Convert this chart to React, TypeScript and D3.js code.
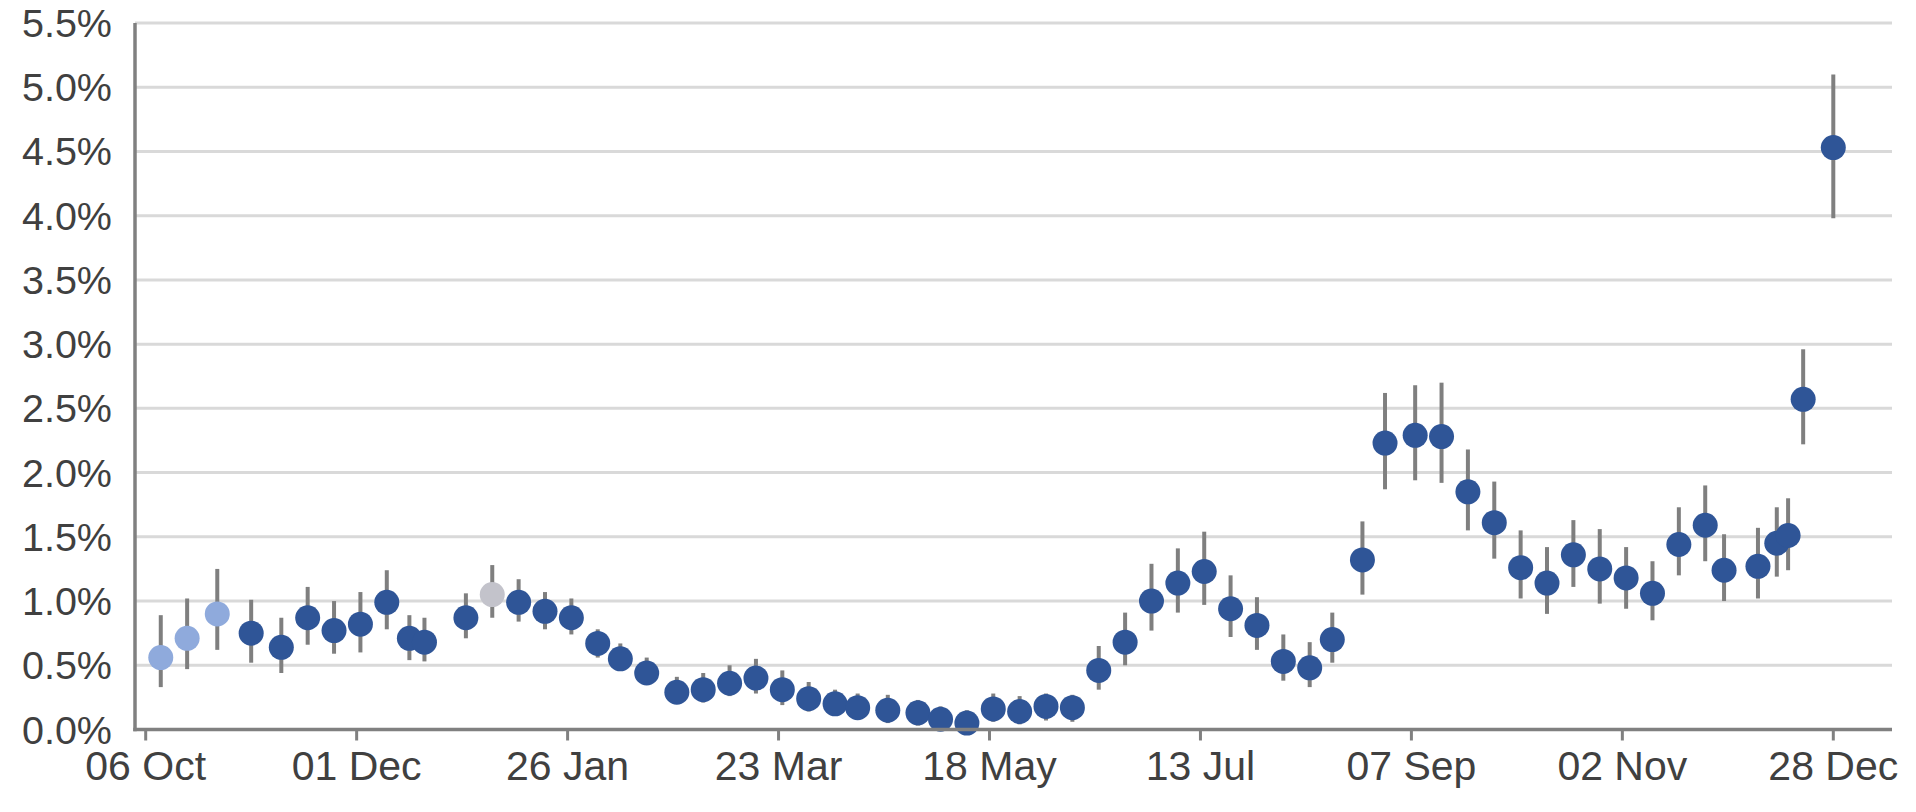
import React from "react";
import * as d3 from "d3";

// ---- data (percent of population testing positive, with 95% credible intervals) ----
const dates = [
  "2020-10-10","2020-10-17","2020-10-25","2020-11-03","2020-11-11","2020-11-18","2020-11-25","2020-12-02",
  "2020-12-09","2020-12-15","2020-12-19","2020-12-30","2021-01-06","2021-01-13","2021-01-20","2021-01-27",
  "2021-02-03","2021-02-09","2021-02-16","2021-02-24","2021-03-03","2021-03-10","2021-03-17","2021-03-24",
  "2021-03-31","2021-04-07","2021-04-13","2021-04-21","2021-04-29","2021-05-05","2021-05-12","2021-05-19",
  "2021-05-26","2021-06-02","2021-06-09","2021-06-16","2021-06-23","2021-06-30","2021-07-07","2021-07-14",
  "2021-07-21","2021-07-28","2021-08-04","2021-08-11","2021-08-17","2021-08-25","2021-08-31","2021-09-08",
  "2021-09-15","2021-09-22","2021-09-29","2021-10-06","2021-10-13","2021-10-20","2021-10-27","2021-11-03",
  "2021-11-10","2021-11-17","2021-11-24","2021-11-29","2021-12-08","2021-12-13","2021-12-16","2021-12-20",
  "2021-12-28",
];
const estimate = [
  0.56,0.71,0.90,0.75,0.64,0.87,0.77,0.82,
  0.99,0.71,0.68,0.87,1.05,0.99,0.92,0.87,
  0.67,0.55,0.44,0.29,0.31,0.36,0.40,0.31,
  0.24,0.20,0.17,0.15,0.13,0.08,0.05,0.16,
  0.14,0.18,0.17,0.46,0.68,1.00,1.14,1.23,
  0.94,0.81,0.53,0.48,0.70,1.32,2.23,2.29,
  2.28,1.85,1.61,1.26,1.14,1.36,1.25,1.18,
  1.06,1.44,1.59,1.24,1.27,1.45,1.51,2.57,
  4.53,
];
const lower = [
  0.33,0.47,0.62,0.52,0.44,0.66,0.59,0.60,
  0.78,0.54,0.53,0.71,0.87,0.84,0.78,0.74,
  0.56,0.46,0.35,0.20,0.21,0.26,0.28,0.19,
  0.14,0.11,0.09,0.05,0.03,0.01,0.00,0.06,
  0.04,0.07,0.06,0.31,0.50,0.77,0.91,0.97,
  0.72,0.62,0.38,0.33,0.52,1.05,1.87,1.94,
  1.92,1.55,1.33,1.02,0.90,1.11,0.98,0.94,
  0.85,1.20,1.31,1.00,1.02,1.19,1.24,2.22,
  3.98,
];
const upper = [
  0.89,1.02,1.25,1.01,0.87,1.11,1.00,1.07,
  1.24,0.89,0.87,1.06,1.28,1.17,1.07,1.02,
  0.78,0.67,0.56,0.41,0.44,0.50,0.55,0.46,
  0.37,0.31,0.28,0.27,0.23,0.18,0.15,0.28,
  0.26,0.28,0.27,0.65,0.91,1.29,1.41,1.54,
  1.20,1.03,0.74,0.68,0.91,1.62,2.62,2.68,
  2.70,2.18,1.93,1.55,1.42,1.63,1.56,1.42,
  1.31,1.73,1.90,1.52,1.57,1.73,1.80,2.96,
  5.10,
];
// series group of each point: 0 = early (light), 1 = highlighted (grey), 2 = main
const group = [
  0,0,0,2,2,2,2,2,
  2,2,2,2,1,2,2,2,
  2,2,2,2,2,2,2,2,
  2,2,2,2,2,2,2,2,
  2,2,2,2,2,2,2,2,
  2,2,2,2,2,2,2,2,
  2,2,2,2,2,2,2,2,
  2,2,2,2,2,2,2,2,
  2,
];
const groupColors = ["#8faadc", "#c3c3cb", "#2f5597"];
const xTickDates = [
  "2020-10-06","2020-12-01","2021-01-26","2021-03-23","2021-05-18",
  "2021-07-13","2021-09-07","2021-11-02","2021-12-28",
];
const yTicks = [0, 0.5, 1.0, 1.5, 2.0, 2.5, 3.0, 3.5, 4.0, 4.5, 5.0, 5.5];

const parse = d3.timeParse("%Y-%m-%d");
const fmt = d3.timeFormat("%d %b");

export default function App() {
  const W = 1916, H = 812;
  const left = 135, right = 1892, top = 23, bottom = 729.5;
  const x = d3.scaleTime()
    .domain([parse(xTickDates[0])!, parse(xTickDates[xTickDates.length - 1])!])
    .range([145.7, 1833.3]);
  const y = d3.scaleLinear().domain([0, 5.5]).range([bottom, top]);
  const font = "'Liberation Sans', Arial, sans-serif";
  const textColor = "#404040";

  return (
    <div style={{ position: "absolute", left: 0, top: 0 }}>
      <svg width={W} height={H} style={{ display: "block", background: "#fff" }}>
        {/* gridlines */}
        {yTicks.slice(1).map((t) => (
          <line key={"g" + t} x1={left} x2={right} y1={y(t)} y2={y(t)} stroke="#d9d9d9" strokeWidth={3} />
        ))}
        {/* y labels */}
        {yTicks.map((t) => (
          <text key={"yl" + t} x={112} y={y(t)} textAnchor="end" dominantBaseline="central"
            fontFamily={font} fontSize={39.5} fill={textColor}>
            {t.toFixed(1) + "%"}
          </text>
        ))}
        {/* error bars */}
        {dates.map((d, i) => (
          <line key={"e" + i} x1={x(parse(d)!)} x2={x(parse(d)!)} y1={y(lower[i])} y2={y(upper[i])}
            stroke="#7f7f7f" strokeWidth={4} />
        ))}
        {/* points */}
        {dates.map((d, i) => (
          <circle key={"p" + i} cx={x(parse(d)!)} cy={y(estimate[i])} r={12.5} fill={groupColors[group[i]]} />
        ))}
        {/* axes */}
        <line x1={left} x2={left} y1={top} y2={bottom + 1.75} stroke="#808080" strokeWidth={3.5} />
        <line x1={left - 1.75} x2={right} y1={bottom} y2={bottom} stroke="#808080" strokeWidth={3.5} />
        {xTickDates.map((d) => {
          const xx = x(parse(d)!);
          return (
            <g key={"xt" + d}>
              <line x1={xx} x2={xx} y1={bottom} y2={bottom + 11} stroke="#808080" strokeWidth={3} />
              <text x={xx} y={780} textAnchor="middle" fontFamily={font} fontSize={41} fill={textColor}>
                {fmt(parse(d)!)}
              </text>
            </g>
          );
        })}
      </svg>
    </div>
  );
}
